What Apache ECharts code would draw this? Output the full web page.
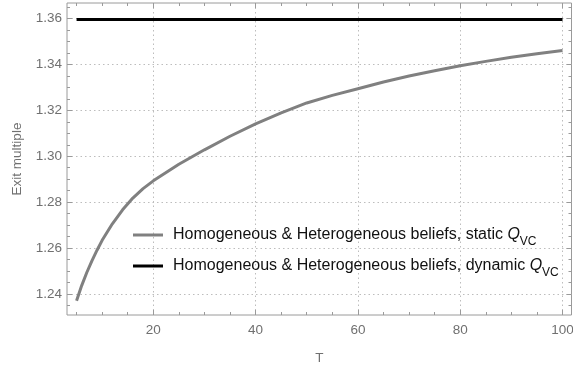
<!DOCTYPE html>
<html>
<head>
<meta charset="utf-8">
<script src="https://cdn.jsdelivr.net/npm/echarts@6/dist/echarts.min.js"></script>
<style>
html,body{margin:0;padding:0;background:#fff;}
#c{width:573px;height:367px;}
</style>
</head>
<body>
<div id="c"></div>
<script>
// Data
const T_values = [5, 6, 7, 8, 9, 10, 12, 14, 16, 18, 20, 25, 30, 35, 40, 45, 50, 55, 60, 65, 70, 75, 80, 85, 90, 95, 100];
const staticQ = [1.2371, 1.2437, 1.2494, 1.2545, 1.2591, 1.2634, 1.2706, 1.2767, 1.2818, 1.2859, 1.2893,
                 1.2965, 1.3028, 1.3087, 1.3141, 1.3189, 1.3232, 1.3265, 1.3294, 1.3323, 1.3349, 1.3372,
                 1.3394, 1.3413, 1.3431, 1.3446, 1.3460];
const dynamicT = [5, 100];
const dynamicQ = [1.3595, 1.3595];
const xMajorTicks = [20, 40, 60, 80, 100];
const xMinorTicks = [5, 10, 15, 25, 30, 35, 45, 50, 55, 65, 70, 75, 85, 90, 95];
const yMajorTicks = [1.24, 1.26, 1.28, 1.30, 1.32, 1.34, 1.36];
const yMinorTicks = [1.235, 1.245, 1.25, 1.255, 1.265, 1.27, 1.275, 1.285, 1.29, 1.295,
                     1.305, 1.31, 1.315, 1.325, 1.33, 1.335, 1.345, 1.35, 1.355, 1.365];
const legendNames = ['Homogeneous & Heterogeneous beliefs, static', 'Homogeneous & Heterogeneous beliefs, dynamic'];
const xName = 'T';
const yName = 'Exit multiple';

const FONT = '"Liberation Sans", Arial, sans-serif';
const AX = '#9a9a9a';
const LBL = '#707070';
const X_MIN = 3.13, X_MAX = 101.76, Y_MIN = 1.2309, Y_MAX = 1.3667;

function xAx(opts) {
  return Object.assign({
    type: 'value', min: X_MIN, max: X_MAX,
    axisLine: {show: false},
    axisLabel: {show: false},
    splitLine: {show: false},
    axisTick: {show: false}
  }, opts);
}
function yAx(opts) {
  return Object.assign({
    type: 'value', min: Y_MIN, max: Y_MAX,
    axisLine: {show: false},
    axisLabel: {show: false},
    splitLine: {show: false},
    axisTick: {show: false}
  }, opts);
}

const chart = echarts.init(document.getElementById('c'), null, {renderer: 'canvas'});
chart.setOption({
  animation: false,
  backgroundColor: '#fff',
  grid: {left: 67, right: 1.5, top: 3, bottom: 52, show: true, borderColor: AX, borderWidth: 1,
         backgroundColor: 'transparent', containLabel: false, outerBoundsMode: 'none'},
  xAxis: [
    xAx({position: 'bottom',
      name: xName, nameLocation: 'middle', nameGap: 36,
      nameTextStyle: {color: LBL, fontSize: 13.5, fontFamily: FONT},
      axisLabel: {show: true, customValues: xMajorTicks, color: LBL, fontSize: 13.5, fontFamily: FONT, margin: 8},
      axisTick: {show: true, inside: true, length: 5, customValues: xMajorTicks, lineStyle: {color: AX}},
      splitLine: {show: true, lineStyle: {color: '#bdbdbd', type: [1.5, 3], width: 1}}
    }),
    xAx({position: 'bottom', axisTick: {show: true, inside: true, length: 3, customValues: xMinorTicks, lineStyle: {color: AX}}}),
    xAx({position: 'top', axisTick: {show: true, inside: true, length: 5, customValues: xMajorTicks, lineStyle: {color: AX}}}),
    xAx({position: 'top', axisTick: {show: true, inside: true, length: 3, customValues: xMinorTicks, lineStyle: {color: AX}}})
  ],
  yAxis: [
    yAx({position: 'left',
      name: yName, nameLocation: 'middle', nameGap: 43,
      nameTextStyle: {color: LBL, fontSize: 13.5, fontFamily: FONT},
      axisLabel: {show: true, customValues: yMajorTicks, color: LBL, fontSize: 13.5, fontFamily: FONT, margin: 5,
        formatter: v => v.toFixed(2)},
      axisTick: {show: true, inside: true, length: 5, customValues: yMajorTicks, lineStyle: {color: AX}},
      splitLine: {show: true, lineStyle: {color: '#bdbdbd', type: [1.5, 3], width: 1}}
    }),
    yAx({position: 'left', axisTick: {show: true, inside: true, length: 3, customValues: yMinorTicks, lineStyle: {color: AX}}}),
    yAx({position: 'right', axisTick: {show: true, inside: true, length: 5, customValues: yMajorTicks, lineStyle: {color: AX}}}),
    yAx({position: 'right', axisTick: {show: true, inside: true, length: 3, customValues: yMinorTicks, lineStyle: {color: AX}}})
  ],
  legend: {
    orient: 'vertical', left: 133, top: 227, itemGap: 10, padding: 0,
    itemWidth: 30, itemHeight: 3, icon: 'rect', selectedMode: false,
    data: legendNames,
    formatter: name => '{a|' + name + ' }{q|Q}{s|VC}',
    textStyle: {
      color: '#111', fontFamily: FONT, fontSize: 16, padding: [0, 0, 0, 5],
      rich: {
        a: {fontSize: 16, fontFamily: FONT, color: '#111', lineHeight: 20},
        q: {fontSize: 16, fontFamily: FONT, color: '#111', fontStyle: 'italic', lineHeight: 20},
        s: {fontSize: 12, fontFamily: FONT, color: '#111', lineHeight: 20, verticalAlign: 'bottom', padding: [0, 0, -3, 0]}
      }
    }
  },
  series: [
    {
      name: legendNames[0], type: 'line', xAxisIndex: 0, yAxisIndex: 0,
      data: T_values.map((t, i) => [t, staticQ[i]]),
      smooth: false, showSymbol: false, symbol: 'none',
      lineStyle: {color: '#808080', width: 3, join: 'round'}, itemStyle: {color: '#808080'}
    },
    {
      name: legendNames[1], type: 'line', xAxisIndex: 0, yAxisIndex: 0,
      data: dynamicT.map((t, i) => [t, dynamicQ[i]]),
      showSymbol: false, symbol: 'none',
      lineStyle: {color: '#000', width: 3}, itemStyle: {color: '#000'}
    }
  ]
});
</script>
</body>
</html>
